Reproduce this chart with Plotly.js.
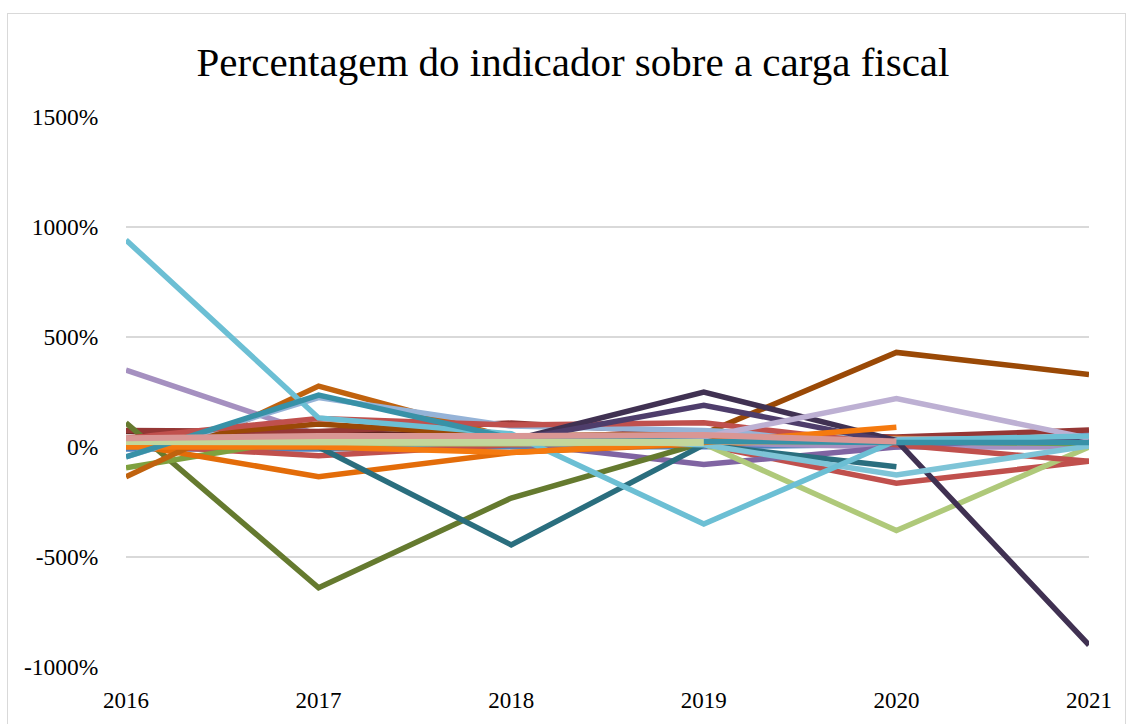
<!DOCTYPE html>
<html>
<head>
<meta charset="utf-8">
<script src="https://cdn.plot.ly/plotly-3.0.1.min.js"></script>
<style>
html,body{margin:0;padding:0;background:#fff;}
#chart{position:absolute;left:0;top:0;width:1129px;height:724px;}
#frame{position:absolute;left:7px;top:13px;width:1117px;height:730px;border:1.5px solid #d9d9d9;pointer-events:none;}
</style>
</head>
<body>
<div id="chart"></div>
<div id="frame"></div>
<script>
const years = [2016, 2017, 2018, 2019, 2020, 2021];
const yTicks = [-1000, -500, 0, 500, 1000, 1500];

const sBlue        = [-10, -10, 0, 0, 10, 10];
const sRed         = [10, -40, 10, 10, -165, -65];
const sLavender    = [350, 55, 30, 20, 0, 0];
const sPurple      = [10, 10, 20, -80, 0, 55];
const sDarkRed1    = [70, 65, 50, 40, 40, 40];
const sDarkRed2    = [75, 70, 109, 60, 45, 77];
const sDarkGreen   = [110, -640, -232, 20, 30, 20];
const sGreen       = [-95, 50, 40, 20, 25, 15];
const sLightGreen  = [15, 15, 20, 15, -380, 0];
const sDarkOrange  = [15, -135, -25, 15, 40, 20];
const sRust        = [-135, 277, 40, 30, 30, 30];
const sBrown       = [30, 105, 50, 60, 430, 330];
const sDarkTeal    = [20, 0, -445, 10, -90, null];
const sLightBlue   = [-45, 225, 95, 75, 35, 40];
const sRed2        = [40, 130, 100, 110, 10, -65];
const sDarkPurple  = [20, 40, 30, 250, 30, -900];
const sPurple2     = [10, 20, 30, 190, 20, 40];
const sLightPurple = [30, 40, 40, 45, 220, 40];
const sSalmon      = [40, 30, 20, 20, 20, 20];
const sAqua2       = [30, 20, 30, 10, -127, 5];
const sAqua        = [941, 132, 60, -350, 30, 50];
const sOrange      = [0, 0, -25, 20, 90, null];
const sTeal        = [-45, 236, 40, 25, 20, 20];
const sPaleGreen   = [25, 25, 25, 20, null, null];
const sPink        = [40, 50, 50, 55, 25, null];

const series = [
  [sBlue, '#4F81BD', 5],
  [sRed, '#C0504D', 5.5],
  [sLavender, '#A590C0', 5.5],
  [sPurple, '#8064A2', 5.5],
  [sDarkRed1, '#632523', 5.5],
  [sDarkRed2, '#953735', 5.5],
  [sDarkGreen, '#657A2F', 5.5],
  [sGreen, '#7EA13F', 5.5],
  [sLightGreen, '#AFC97A', 5.5],
  [sDarkOrange, '#E36C09', 5.5],
  [sRust, '#C0620E', 5.5],
  [sBrown, '#9A4906', 5.5],
  [sDarkTeal, '#2A6E7E', 5.5],
  [sLightBlue, '#95B3D7', 5.5],
  [sRed2, '#C0504D', 5.5],
  [sDarkPurple, '#403152', 5.5],
  [sPurple2, '#4E3D6B', 5.5],
  [sLightPurple, '#BDB0D3', 5.5],
  [sSalmon, '#F2A46A', 5],
  [sAqua2, '#7EC4D7', 5.5],
  [sAqua, '#6CBFD4', 5.5],
  [sOrange, '#F57A0F', 5.5],
  [sTeal, '#3891A7', 5.5],
  [sPaleGreen, '#C3D69B', 7],
  [sPink, '#D99694', 6]
];

const traces = series.map(([vals, color, w]) => ({
  x: years,
  y: vals,
  type: 'scatter',
  mode: 'lines',
  line: {color: color, width: w},
  connectgaps: false,
  hoverinfo: 'skip',
  showlegend: false
}));

const font = 'Liberation Serif, Times New Roman, serif';

const layout = {
  width: 1129,
  height: 724,
  margin: {l: 126, r: 40, t: 117, b: 57},
  paper_bgcolor: '#ffffff',
  plot_bgcolor: '#ffffff',
  showlegend: false,
  title: {
    text: 'Percentagem do indicador sobre a carga fiscal',
    font: {family: font, size: 41, color: '#000000'},
    x: 573/1129, xref: 'container', xanchor: 'center',
    y: 1 - 62/724, yref: 'container', yanchor: 'middle'
  },
  xaxis: {
    type: 'linear',
    range: [2016, 2021],
    tickvals: years,
    ticktext: years.map(String),
    showgrid: false,
    zeroline: false,
    showline: false,
    ticks: 'outside',
    ticklen: 12,
    tickcolor: 'rgba(0,0,0,0)',
    tickfont: {family: font, size: 23, color: '#000000'}
  },
  yaxis: {
    range: [-1000, 1500],
    tickvals: yTicks,
    ticktext: yTicks.map(v => v + '%'),
    showgrid: true,
    gridcolor: '#d9d9d9',
    gridwidth: 1.5,
    zeroline: false,
    showline: false,
    ticks: 'outside',
    ticklen: 22,
    tickcolor: 'rgba(0,0,0,0)',
    tickfont: {family: font, size: 23.5, color: '#000000'}
  }
};

Plotly.newPlot('chart', traces, layout, {staticPlot: true, displayModeBar: false});
</script>
</body>
</html>
